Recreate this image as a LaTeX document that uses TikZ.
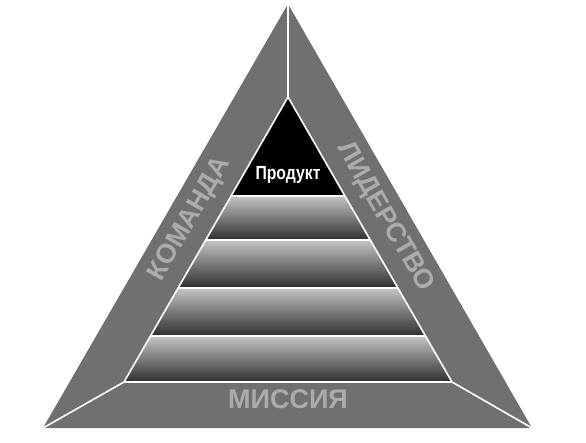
\documentclass[tikz,border=0pt]{standalone}
\usepackage{fontspec}
\setmainfont{Liberation Sans}
\usetikzlibrary{calc}
\definecolor{sidegray}{HTML}{707070}
\definecolor{labelgray}{HTML}{ABABAB}
\definecolor{bandtop}{HTML}{C4C4C4}
\definecolor{bandbot}{HTML}{2E2E2E}
\tikzstyle{side} = [fill=sidegray]
\tikzstyle{sep} = [draw=white, line width=1.6pt, line join=round]
\tikzstyle{band} = [top color=bandtop, bottom color=bandbot]
\tikzstyle{word} = [text=labelgray, inner sep=0pt,
			font=\fontsize{27}{27}\selectfont\bfseries]

\begin{document}
\begin{tikzpicture}[x=1pt, y=-1pt]

\useasboundingbox (0,0) rectangle (586,442);

% outer triangle
\coordinate (top) at (288,4);
\coordinate (lft) at (43,428);
\coordinate (rgt) at (532,428);
% pyramid
\coordinate (ptop) at (288,97);
\coordinate (plft) at (124,382);
\coordinate (prgt) at (452,382);

\fill[side] (top) -- (lft) -- (rgt) -- cycle;

\fill[black] (ptop) -- ($(ptop)!0.347!(plft)$) -- ($(ptop)!0.347!(prgt)$) -- cycle;

\foreach \a/\b in {0.347/0.502, 0.502/0.670, 0.670/0.839, 0.839/1}
	\shade[band] ($(ptop)!\a!(plft)$) -- ($(ptop)!\a!(prgt)$)
		-- ($(ptop)!\b!(prgt)$) -- ($(ptop)!\b!(plft)$) -- cycle;

\foreach \a in {0.347, 0.502, 0.670, 0.839}
	\draw[sep] ($(ptop)!\a!(plft)$) -- ($(ptop)!\a!(prgt)$);

\draw[sep] (plft) -- (ptop) -- (prgt) -- cycle;
\draw[sep] (top) -- (ptop);
\draw[sep] (lft) -- (plft);
\draw[sep] (rgt) -- (prgt);

\node [word, rotate=60]
(team)
	at (190,219) {КОМАНДА};

\node [word, rotate=-60]
(lead)
	at (385,217) {ЛИДЕРСТВО};

\node [word]
(mission)
	at (288,399) {МИССИЯ};

\node [text=white, inner sep=0pt, font=\fontsize{19}{19}\selectfont\bfseries]
(product)
	at (288,175) {\scalebox{0.83}[1]{Продукт}};

\end{tikzpicture}
\end{document}
